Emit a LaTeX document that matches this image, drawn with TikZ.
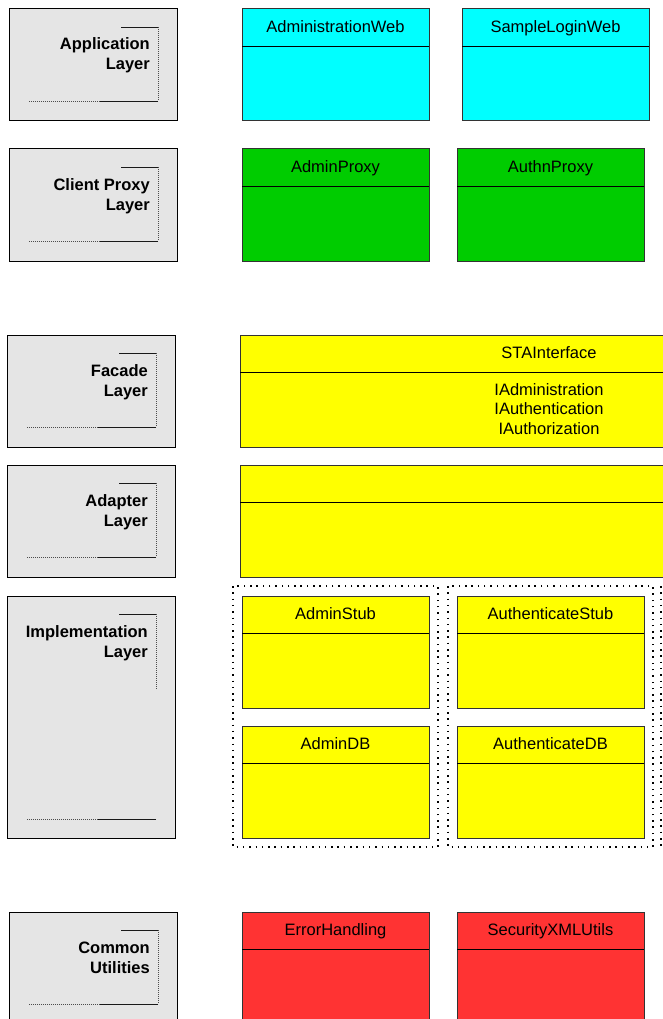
\documentclass[tikz,border=0pt]{standalone}
\usepackage{fontspec}
\setmainfont{Liberation Sans}
\definecolor{laygray}{HTML}{E5E5E5}
\definecolor{webcyan}{HTML}{00FFFF}
\definecolor{proxygreen}{HTML}{00CC00}
\definecolor{impyellow}{HTML}{FFFF00}
\definecolor{utilred}{HTML}{FF3333}
\definecolor{edgegray}{HTML}{333333}
\tikzset{
  laystyle/.style={draw=black, line width=1pt, fill=laygray, inner sep=0pt, outer sep=0pt, anchor=north west},
  clsstyle/.style={draw=edgegray, line width=1pt, inner sep=0pt, outer sep=0pt, anchor=north west},
  divline/.style={draw=black, line width=0.9pt},
  titletext/.style={font=\fontsize{16.5}{19.5}\selectfont, inner sep=0pt, anchor=base},
  laytext/.style={font=\fontsize{16.5}{20}\selectfont\bfseries, inner sep=0pt, anchor=base east},
  brsolid/.style={draw=black!90, line width=0.9pt},
  brdotted/.style={draw=black!70, line width=0.9pt, dash pattern=on 1pt off 1pt},
  framedots/.style={draw=black, line width=1.5pt, dash pattern=on 1.5pt off 4.8pt},
}
% name, x, y, w, h, colour, title
\newcommand\clsbox[7]{%
  \node[clsstyle, fill=#6, minimum width=#4pt, minimum height=#5pt] (#1) at (#2,#3) {};
  \draw[divline] ([yshift=-37pt]#1.north west) -- ([yshift=-37pt]#1.north east);
  \node[titletext] (#1-t) at ([yshift=-23.5pt]#1.north) {#7};
}
% name, x, y, h, vertical end, bottom offset, line1, line2
\newcommand\laybox[8]{%
  \node[laystyle, minimum width=168pt, minimum height=#4pt] (#1) at (#2,#3) {};
  \coordinate (#1-a) at ([xshift=112pt,yshift=-18pt]#1.north west);
  \coordinate (#1-b) at ([xshift=-19pt,yshift=-18pt]#1.north east);
  \coordinate (#1-c) at ([xshift=-19pt,yshift=-#5pt]#1.north east);
  \coordinate (#1-d) at ([xshift=-19pt,yshift=-#6pt]#1.north east);
  \coordinate (#1-e) at ([xshift=91pt,yshift=-#6pt]#1.north west);
  \coordinate (#1-f) at ([xshift=20pt,yshift=-#6pt]#1.north west);
  \draw[brsolid] (#1-a) -- (#1-b);
  \draw[brdotted] (#1-b) -- (#1-c);
  \draw[brsolid] (#1-d) -- (#1-e);
  \draw[brdotted] (#1-e) -- (#1-f);
  \node[laytext] (#1-l1) at ([xshift=-27pt,yshift=-41pt]#1.north east) {#7};
  \node[laytext] (#1-l2) at ([xshift=-27pt,yshift=-61pt]#1.north east) {#8};
}
\begin{document}
\begin{tikzpicture}[x=1pt,y=-1pt]
\useasboundingbox (0,0) rectangle (663,1019);
\clip (0,0) rectangle (663,1019);

% layer boxes
\laybox{app}{9}{9}{112}{92}{92}{Application}{Layer}
\laybox{cpl}{9}{149}{112}{92}{92}{Client Proxy}{Layer}
\laybox{fac}{7}{335}{112}{92}{92}{Facade}{Layer}
\laybox{ada}{7}{465}{112}{92}{92}{Adapter}{Layer}
\laybox{imp}{7}{596}{242}{93}{223}{Implementation}{Layer}
\laybox{com}{9}{912}{120}{92}{92}{Common}{Utilities}

% application layer
\clsbox{aweb}{242}{9}{187}{112}{webcyan}{AdministrationWeb}
\clsbox{slweb}{462}{9}{187}{112}{webcyan}{SampleLoginWeb}

% client proxy layer
\clsbox{aprox}{242}{149}{187}{112}{proxygreen}{AdminProxy}
\clsbox{nprox}{457}{149}{187}{112}{proxygreen}{AuthnProxy}

% facade layer
\clsbox{sta}{240}{335}{618}{112}{impyellow}{STAInterface}
\node[titletext, anchor=north, align=center] (sta-ops) at ([yshift=-46.35pt]sta.north)
  {\strut IAdministration\\IAuthentication\\IAuthorization\strut};

% adapter layer
\clsbox{adp}{240}{465}{618}{112}{impyellow}{}

% implementation layer frames
\draw[framedots] (233,586) rectangle (438,847);
\draw[framedots] (448,586) rectangle (653,847);
\draw[framedots] (661,586) rectangle (866,847);
\clsbox{astub}{242}{596}{187}{112}{impyellow}{AdminStub}
\clsbox{nstub}{457}{596}{187}{112}{impyellow}{AuthenticateStub}
\clsbox{adb}{242}{726}{187}{112}{impyellow}{AdminDB}
\clsbox{ndb}{457}{726}{187}{112}{impyellow}{AuthenticateDB}

% common utilities
\clsbox{err}{242}{912}{187}{120}{utilred}{ErrorHandling}
\clsbox{sxml}{457}{912}{187}{120}{utilred}{SecurityXMLUtils}
\end{tikzpicture}
\end{document}
